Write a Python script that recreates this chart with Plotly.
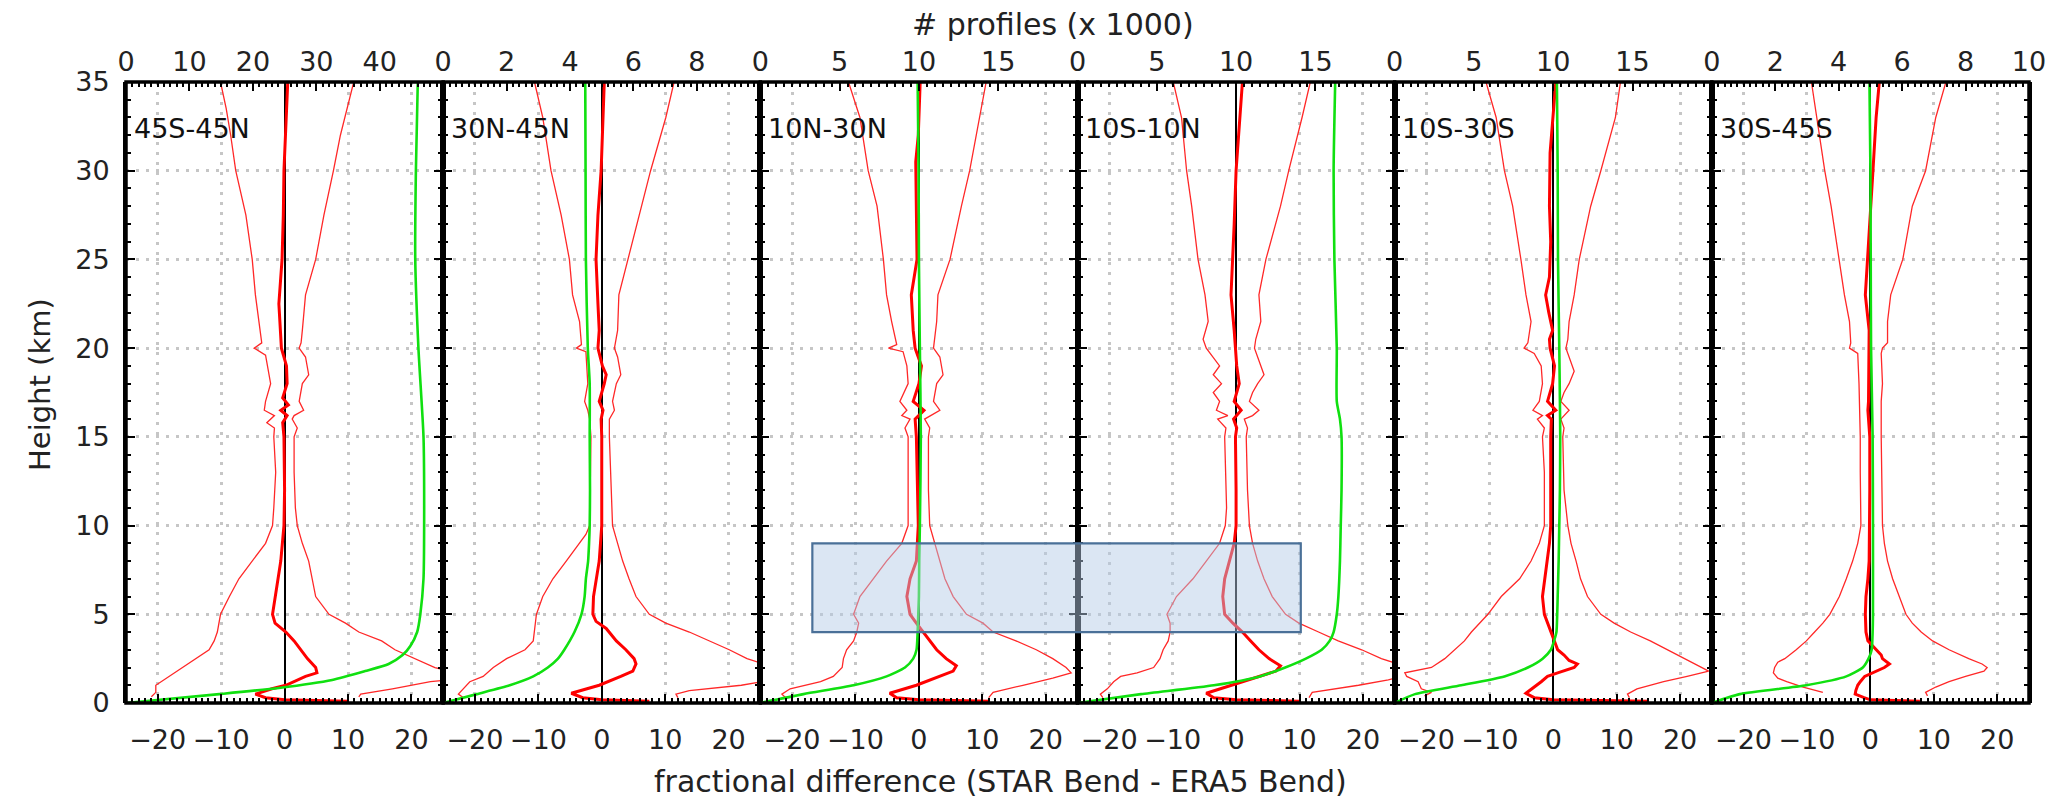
import plotly.graph_objects as go

# ---------------- axes / labels ----------------
REGIONS = ["45S-45N", "30N-45N", "10N-30N", "10S-10N", "10S-30S", "30S-45S"]
COUNT_MAX = [50, 10, 20, 20, 20, 10]
COUNT_TICKS = [[0, 10, 20, 30, 40], [0, 2, 4, 6, 8], [0, 5, 10, 15],
               [0, 5, 10, 15], [0, 5, 10, 15], [0, 2, 4, 6, 8, 10]]
COUNT_MINOR = [1, 0.2, 0.5, 0.5, 0.5, 0.2]
DIFF_RANGE = [-25, 25]
DIFF_TICKS = [-20, -10, 0, 10, 20]
HEIGHT_RANGE = [0, 35]
HEIGHT_TICKS = [0, 5, 10, 15, 20, 25, 30, 35]

# highlight box: from panel 3 (x=-16.8) to panel 4 (x=10.2), 4-9 km
BOX_PANELS = [3, 4]
BOX_X = [-16.8, 10.2]
BOX_Y = [4, 9]

# ---------------- panel 1 : 45S-45N ----------------
H_MEAN_1 = [35, 32, 30, 27.5, 25, 22.5, 21, 20, 19, 18, 17.2, 16.8, 16.5, 16.2, 15.8, 15, 12, 10, 8, 7, 6, 5, 4.5, 4, 3.5, 3, 2.5, 2, 1.7, 1.5, 1.2, 1, 0.8, 0.5, 0.3, 0.18, 0.1]
MEAN_1 = [0.5, 0.2, -0.1, -0.2, -0.4, -0.9, -0.6, -0.5, 0.3, 0.4, -0.3, 0.6, -0.6, 0.4, -0.3, -0.1, 0.0, -0.1, -0.6, -1.0, -1.4, -1.9, -1.5, 0.2, 1.5, 2.5, 3.6, 4.9, 5.1, 3.3, 1.5, 0.2, -2.0, -4.6, -3.0, 0.0, 10.0]
H_LO_1 = [35, 33.5, 32, 30, 27.5, 25, 23, 21, 20.3, 20, 19.6, 18, 17, 16.5, 16.2, 15.8, 15.5, 15, 13, 11, 10, 9, 8, 7, 6, 5, 4, 3.5, 3, 2.5, 2, 1.5, 1.0, 0.6, 0.35]
LO_1 = [-10.1, -9.2, -8.5, -7.7, -6.1, -5.1, -4.6, -3.8, -3.6, -4.8, -3.0, -2.2, -3.0, -3.2, -1.6, -2.8, -1.6, -1.7, -1.4, -1.7, -1.9, -3.0, -5.1, -7.2, -8.7, -10.1, -10.6, -11.1, -11.9, -14.0, -16.1, -18.2, -20.3, -20.3, -21.0]
H_HI_1 = [35, 33.5, 32, 30, 27.5, 25, 23, 21, 20.3, 20, 19.5, 18.5, 18, 17, 16.5, 16.2, 16, 15.5, 15, 13, 11, 10, 9, 8, 7, 6, 5, 4.5, 4, 3.5, 3, 2.5, 2, 1.8, 1.5, 1.3, 1.2, 0.8, 0.5, 0.35]
HI_1 = [10.9, 9.8, 8.8, 7.7, 6.2, 4.9, 3.3, 2.8, 2.6, 2.3, 3.3, 3.8, 2.8, 2.3, 3.0, 1.5, 1.2, 2.0, 1.5, 1.5, 1.7, 2.0, 2.8, 3.8, 4.3, 4.9, 7.0, 9.6, 11.7, 15.3, 17.4, 20.6, 23.7, 26.0, 28.0, 26.0, 23.0, 17.0, 12.0, 11.7]
H_N_1 = [35, 30, 25, 20, 15, 10, 7, 5, 4, 3.2, 2.7, 2.2, 1.8, 1.3, 0.85, 0.5, 0.0]
N_1 = [46.0, 45.7, 45.6, 46.1, 46.9, 47.0, 46.9, 46.4, 45.9, 44.8, 43.6, 41.4, 37.7, 32.5, 24.1, 14.7, 0.0]

# ---------------- panel 2 : 30N-45N ----------------
H_MEAN_2 = [35, 32, 30, 27.5, 25, 22.5, 21, 20, 19, 18.5, 18, 17, 16.5, 16, 15, 12, 10, 8, 7, 6, 5, 4.6, 4.2, 3.5, 3, 2.5, 2.2, 1.8, 1.5, 1, 0.55, 0.3, 0.18, 0.1]
MEAN_2 = [0.4, 0.1, -0.1, -0.6, -0.9, -0.6, -0.4, -0.6, 0.1, 0.7, 0.4, -0.4, 0.2, -0.1, 0.0, 0.0, 0.0, -0.4, -0.9, -1.3, -1.4, -0.9, 0.7, 2.3, 3.8, 5.1, 5.4, 4.9, 3.0, -0.4, -4.8, -3.0, 0.0, 7.5]
H_LO_2 = [35, 33, 30, 27.5, 25, 23, 21.5, 20.2, 20, 19.8, 18, 17, 16.5, 16, 15, 12, 10, 9.5, 9, 8, 7, 6, 5, 4, 3.5, 3, 2.5, 2, 1.5, 1.2, 0.8, 0.5, 0.3]
LO_2 = [-10.6, -9.3, -8.0, -6.4, -5.1, -4.6, -3.5, -3.2, -4.0, -2.5, -2.2, -2.7, -2.2, -1.9, -1.7, -1.8, -1.9, -2.5, -3.5, -5.6, -7.7, -9.3, -10.3, -10.6, -10.8, -12.1, -15.0, -17.1, -18.7, -20.8, -21.8, -22.6, -21.8]
H_HI_2 = [35, 33, 30, 27.5, 25, 23, 21, 20, 19.5, 18.5, 18, 17, 16.5, 16, 15, 12, 10, 9, 8, 7, 6, 5, 4.5, 4, 3.5, 3, 2.5, 2.2, 1.8, 1.3, 1.0, 0.7, 0.5, 0.3]
HI_2 = [11.4, 10.1, 7.7, 5.9, 4.1, 2.7, 2.5, 2.0, 2.5, 3.0, 2.3, 1.7, 2.0, 1.2, 1.2, 1.5, 1.7, 2.5, 3.3, 4.3, 5.4, 7.5, 10.1, 13.8, 16.9, 20.1, 22.9, 25.5, 28.0, 27.0, 22.0, 13.8, 11.7, 12.0]
H_N_2 = [35, 30, 25, 20, 18, 15, 12, 10, 9, 8, 7, 6, 5, 4, 3, 2.5, 2, 1.5, 1, 0.5, 0.0]
N_2 = [4.48, 4.49, 4.5, 4.56, 4.62, 4.62, 4.63, 4.62, 4.6, 4.57, 4.5, 4.46, 4.36, 4.14, 3.82, 3.62, 3.3, 2.84, 2.1, 1.06, 0.0]

# ---------------- panel 3 : 10N-30N ----------------
H_MEAN_3 = [35, 32, 30.5, 28, 25, 23, 21, 20, 19, 18, 17, 16.5, 16, 15, 12, 10, 8, 7, 6, 5, 4.5, 4, 3.5, 3, 2.5, 2.1, 1.8, 1.5, 1, 0.55, 0.3, 0.18, 0.1]
MEAN_3 = [0.2, -0.1, -0.5, -0.4, -0.3, -1.2, -0.9, -0.6, 0.4, 0.0, -0.9, 0.8, -0.6, -0.4, -0.2, -0.1, -0.4, -1.4, -1.9, -1.4, -0.4, 0.7, 1.7, 2.8, 4.3, 5.9, 5.4, 3.3, -0.4, -4.6, -3.5, 0.0, 11.2]
H_LO_3 = [35, 33, 30, 28, 25, 23, 21.5, 20.2, 20, 19.8, 19, 18, 17, 16.5, 16.2, 16, 15.5, 15, 13, 11, 10, 9, 8, 7, 6, 5, 4.5, 4, 3.5, 3, 2.5, 2, 1.5, 1.2, 0.8, 0.5, 0.3]
LO_3 = [-11.1, -9.3, -8.0, -6.6, -5.6, -5.1, -4.3, -3.5, -4.8, -2.5, -1.9, -1.7, -3.0, -1.9, -2.7, -1.4, -2.2, -1.7, -1.7, -1.7, -1.7, -2.7, -5.1, -7.2, -9.3, -10.3, -9.5, -9.8, -10.3, -11.4, -11.9, -12.1, -13.5, -15.5, -20.3, -21.6, -21.0]
H_HI_3 = [35, 33, 30, 28, 25, 23, 21.5, 20, 19.5, 18.5, 18, 17, 16.5, 16, 15.5, 15, 12, 10, 9, 8, 7, 6, 5, 4.5, 4, 3.5, 3, 2.5, 2, 1.7, 1.4, 1.0, 0.6, 0.3]
HI_3 = [10.6, 9.6, 8.0, 6.7, 4.9, 3.0, 2.8, 2.3, 3.3, 3.8, 2.8, 2.3, 3.3, 0.9, 1.7, 1.5, 1.5, 1.7, 2.5, 3.3, 4.1, 5.4, 7.5, 10.1, 11.7, 15.3, 18.5, 21.1, 23.2, 24.0, 21.1, 16.4, 11.7, 11.0]
H_N_3 = [35, 30, 25, 20, 15, 10, 8, 6, 5, 4, 3, 2.5, 2, 1.5, 1, 0.5, 0.0]
N_3 = [9.92, 9.98, 10.0, 10.06, 10.12, 10.06, 10.02, 10.0, 9.96, 9.92, 9.85, 9.64, 9.12, 7.96, 5.88, 2.72, 0.0]

# ---------------- panel 4 : 10S-10N ----------------
H_MEAN_4 = [35, 32, 30, 27, 25, 23, 21, 20, 19, 18, 17, 16.5, 16, 15.5, 15, 12, 10, 9, 8, 7, 6, 5, 4.5, 4, 3.5, 3, 2.5, 2.1, 1.8, 1.5, 1, 0.55, 0.3, 0.18, 0.1]
MEAN_4 = [1.0, 0.4, 0.0, -0.3, -0.5, -0.8, -0.3, -0.1, 0.1, 0.5, -0.3, 0.8, -0.4, 0.1, -0.1, 0.0, 0.0, -0.3, -1.0, -1.8, -2.1, -1.8, -0.5, 1.0, 2.3, 3.6, 5.2, 7.0, 6.3, 3.6, -0.5, -4.7, -3.5, 0.0, 10.0]
H_LO_4 = [35, 33, 30, 28, 25, 23, 21.5, 20.5, 20, 19, 18.5, 18, 17.5, 17, 16.5, 16.2, 16, 15.5, 15, 13, 11, 10, 9, 8, 7, 6, 5, 4.5, 4, 3.5, 3, 2.5, 2, 1.7, 1.5, 1.2, 0.8, 0.5, 0.3]
LO_4 = [-9.9, -8.6, -7.8, -7.0, -6.0, -4.9, -4.4, -5.2, -4.7, -2.6, -3.6, -2.3, -3.6, -2.6, -3.1, -1.3, -2.9, -1.6, -1.8, -1.6, -1.5, -1.7, -2.6, -4.7, -6.8, -9.4, -10.9, -10.4, -10.4, -10.7, -11.5, -12.0, -13.0, -15.6, -18.2, -19.3, -20.3, -21.4, -21.0]
H_HI_4 = [35, 33, 30, 28, 25, 23, 21.5, 20.5, 20, 19.5, 19, 18.5, 18, 17.5, 17, 16.5, 16.2, 16, 15.5, 15, 12, 10, 9, 8, 7, 6, 5, 4.5, 4, 3.5, 3, 2.5, 2.2, 1.7, 1.3, 1.0, 0.6, 0.3]
HI_4 = [11.7, 10.4, 8.3, 7.0, 4.7, 3.6, 3.9, 3.1, 2.9, 3.4, 3.9, 4.4, 3.4, 2.6, 2.1, 3.6, 2.6, 1.3, 1.8, 1.6, 1.8, 2.1, 2.6, 3.4, 4.4, 5.7, 7.8, 9.9, 13.0, 16.1, 19.8, 22.9, 25.5, 28.0, 24.0, 19.3, 12.0, 11.5]
H_N_4 = [35, 30, 25, 20, 17, 16, 15, 12, 10, 8, 6, 5, 4, 3.5, 3, 2.5, 2, 1.5, 1, 0.5, 0.0]
N_4 = [16.25, 16.15, 16.2, 16.35, 16.35, 16.55, 16.65, 16.65, 16.6, 16.55, 16.45, 16.35, 16.15, 15.9, 15.4, 14.4, 13.1, 11.5, 8.6, 4.0, 0.0]

# ---------------- panel 5 : 10S-30S ----------------
H_MEAN_5 = [35, 32, 31, 28, 26, 24, 23, 22, 21, 20.5, 20, 19, 18, 17, 16.5, 16.2, 16, 15, 12, 10, 9, 8, 7, 6, 5, 4.5, 4, 3.5, 3, 2.7, 2.4, 2.2, 2.0, 1.7, 1.5, 1.2, 0.9, 0.55, 0.3, 0.18, 0.1]
MEAN_5 = [0.4, -0.2, -0.5, -0.6, -0.4, -0.6, -1.2, -0.7, -0.1, -0.6, -0.5, 0.2, -0.1, -0.9, 0.4, -0.9, -0.3, -0.4, -0.4, -0.4, -0.6, -1.0, -1.4, -1.7, -1.4, -0.9, -0.4, 0.2, 0.7, 1.7, 2.5, 3.8, 3.3, 0.7, -0.9, -1.9, -3.0, -4.3, -3.0, 0.0, 15.0]
H_LO_5 = [35, 33, 30, 28, 25, 23, 21.5, 20.3, 20, 19.7, 19, 18, 17, 16.5, 16.2, 16, 15.5, 15, 13, 11, 10, 9, 8, 7, 6, 5, 4.5, 4, 3.5, 3, 2.5, 2, 1.7, 1.5, 1.2, 0.8, 0.6, 0.4]
LO_5 = [-10.6, -9.0, -7.7, -6.4, -5.1, -4.3, -3.5, -4.0, -4.6, -3.0, -1.9, -1.7, -2.2, -3.2, -1.7, -2.5, -1.4, -1.7, -1.4, -1.4, -1.4, -2.2, -3.5, -5.3, -8.2, -10.3, -11.6, -12.9, -14.0, -15.5, -17.1, -19.2, -23.4, -23.1, -21.3, -20.8, -19.2, -20.3]
H_HI_5 = [35, 33, 30, 28, 25, 23, 21.5, 20.5, 20, 19.5, 18.7, 18, 17.5, 17, 16.5, 16, 15.5, 15, 12, 10, 9, 8, 7, 6, 5, 4.5, 4, 3.5, 3, 2.5, 2, 1.8, 1.5, 1.2, 0.8, 0.5, 0.3]
HI_5 = [10.6, 9.8, 7.5, 5.9, 4.1, 3.3, 2.5, 2.3, 2.0, 2.5, 3.3, 2.5, 1.7, 1.2, 2.5, 1.2, 1.7, 1.5, 1.7, 2.3, 2.8, 3.6, 4.3, 5.4, 7.5, 9.6, 12.2, 15.3, 18.0, 20.6, 23.5, 24.5, 21.1, 17.4, 13.2, 11.7, 12.0]
H_N_5 = [35, 30, 25, 20, 17, 15, 12, 10, 8, 6, 5, 4, 3.5, 3, 2.5, 2, 1.5, 1, 0.5, 0.0]
N_5 = [10.23, 10.28, 10.3, 10.38, 10.42, 10.44, 10.42, 10.38, 10.34, 10.28, 10.25, 10.2, 10.05, 9.85, 9.33, 8.4, 6.92, 4.2, 1.28, 0.0]

# ---------------- panel 6 : 30S-45S ----------------
H_MEAN_6 = [35, 33, 30, 27, 25, 23, 21, 20, 17, 16.5, 15, 12, 10, 8, 7, 6, 5, 4, 3.5, 3, 2.7, 2.5, 2.2, 2.0, 1.7, 1.5, 1.2, 1.0, 0.7, 0.5, 0.3, 0.18, 0.1]
MEAN_6 = [1.4, 0.9, 0.4, -0.1, -0.4, -0.8, -0.2, -0.2, -0.3, -0.4, -0.1, -0.1, -0.1, -0.2, -0.4, -0.7, -0.8, -0.7, -0.4, 0.9, 1.7, 1.9, 3.0, 2.2, 0.4, -0.9, -1.6, -2.0, -2.3, -2.4, -1.0, 0.0, 7.8]
H_LO_6 = [35, 33, 30, 28, 25, 23, 21.5, 20.3, 20, 19.7, 18, 17, 15, 13, 11, 10, 9, 8, 7, 6, 5, 4.5, 4, 3.5, 3, 2.5, 2.3, 2.0, 1.7, 1.4, 1.2, 0.9, 0.6]
LO_6 = [-9.3, -8.5, -7.2, -6.2, -4.9, -4.1, -3.3, -3.1, -3.3, -2.0, -1.8, -1.7, -1.6, -1.6, -1.5, -1.5, -2.0, -2.8, -3.8, -4.9, -6.4, -7.5, -8.8, -10.1, -11.7, -13.5, -14.6, -15.1, -15.3, -14.6, -13.2, -10.6, -7.5]
H_HI_6 = [35, 33, 30, 28, 25, 23, 21.5, 20.3, 20, 19.7, 18, 17, 15, 13, 11, 10, 9, 8, 7, 6, 5, 4.5, 4, 3.5, 3, 2.5, 2.2, 2.0, 1.8, 1.5, 1.2, 0.9, 0.6, 0.4]
HI_6 = [11.9, 10.3, 8.7, 6.6, 5.1, 3.2, 2.7, 2.7, 1.9, 1.7, 1.9, 1.7, 1.7, 1.8, 1.9, 1.9, 2.2, 2.7, 3.5, 4.6, 5.6, 6.6, 8.0, 9.8, 12.4, 15.5, 17.6, 18.4, 17.9, 15.0, 12.4, 10.3, 8.7, 9.0]
H_N_6 = [35, 30, 25, 20, 15, 10, 5, 4, 3, 2.5, 2, 1.5, 1, 0.5, 0.0]
N_6 = [4.97, 5.0, 5.01, 5.02, 5.07, 5.08, 5.08, 5.07, 5.04, 4.94, 4.76, 4.24, 2.98, 0.88, 0.0]

PANELS = [
    (H_MEAN_1, MEAN_1, H_LO_1, LO_1, H_HI_1, HI_1, H_N_1, N_1),
    (H_MEAN_2, MEAN_2, H_LO_2, LO_2, H_HI_2, HI_2, H_N_2, N_2),
    (H_MEAN_3, MEAN_3, H_LO_3, LO_3, H_HI_3, HI_3, H_N_3, N_3),
    (H_MEAN_4, MEAN_4, H_LO_4, LO_4, H_HI_4, HI_4, H_N_4, N_4),
    (H_MEAN_5, MEAN_5, H_LO_5, LO_5, H_HI_5, HI_5, H_N_5, N_5),
    (H_MEAN_6, MEAN_6, H_LO_6, LO_6, H_HI_6, HI_6, H_N_6, N_6),
]

# ---------------- styling ----------------
FONT = "DejaVu Sans"
TXT = "#222222"
RED = "#ff0000"
THIN_RED = "rgb(255,40,40)"
GREEN = "#10e010"
GRID = "#c6c6c6"
GRID_DASH = "3px,7px"
TICK_SIZE = 27

W, H = 2066, 804
ML, MR, MT, MB = 126, 37, 82, 101
NP = len(REGIONS)


def ref(prefix, n):
    return prefix if n == 1 else f"{prefix}{n}"


fig = go.Figure()
layout = dict(
    width=W, height=H, autosize=False,
    margin=dict(l=ML, r=MR, t=MT, b=MB, pad=0),
    paper_bgcolor="white", plot_bgcolor="white",
    showlegend=False,
    font=dict(family=FONT, size=TICK_SIZE, color=TXT),
)
shapes = []
annotations = []

for i in range(NP):
    n = i + 1
    xb, xt, yy = ref("x", n), ref("x", n + NP), ref("y", n)
    d0, d1 = i / NP, (i + 1) / NP
    hm, m, hl, lo, hh, hi, hn, cnt = PANELS[i]

    # bottom axis: fractional difference
    layout[ref("xaxis", n)] = dict(
        domain=[d0, d1], range=DIFF_RANGE, anchor=yy,
        tickmode="array", tickvals=DIFF_TICKS,
        ticktext=[f"{v:d}".replace("-", "\u2212") for v in DIFF_TICKS],
        ticks="inside", ticklen=9, tickwidth=2, tickcolor="black",
        minor=dict(tickmode="linear", tick0=0, dtick=1, ticks="inside",
                   ticklen=5, tickwidth=1.5, tickcolor="black", showgrid=False),
        showgrid=True, gridcolor=GRID, gridwidth=2.5, griddash=GRID_DASH,
        zeroline=True, zerolinecolor="black", zerolinewidth=1.6,
        showline=False, ticklabelstandoff=18,
        tickfont=dict(family=FONT, size=TICK_SIZE, color=TXT),
        fixedrange=True,
    )
    # top axis: number of profiles
    layout[ref("xaxis", n + NP)] = dict(
        overlaying=xb, side="top", anchor=yy,
        range=[0, COUNT_MAX[i]],
        tickmode="array", tickvals=COUNT_TICKS[i],
        ticks="inside", ticklen=9, tickwidth=2, tickcolor="black",
        minor=dict(tickmode="linear", tick0=0, dtick=COUNT_MINOR[i], ticks="inside",
                   ticklen=5, tickwidth=1.5, tickcolor="black", showgrid=False),
        showgrid=False, zeroline=False, showline=False,
        ticklabelstandoff=5,
        tickfont=dict(family=FONT, size=TICK_SIZE, color=TXT),
        fixedrange=True,
    )
    ya = dict(
        domain=[0, 1], range=HEIGHT_RANGE, anchor=xb,
        tickmode="array", tickvals=HEIGHT_TICKS,
        ticks="inside", ticklen=9, tickwidth=2, tickcolor="black",
        minor=dict(tickmode="linear", tick0=0, dtick=1, ticks="inside",
                   ticklen=5, tickwidth=2, tickcolor="black", showgrid=False),
        showline=True, linecolor="black", linewidth=3, mirror="ticks",
        showgrid=True, gridcolor=GRID, gridwidth=2.5, griddash=GRID_DASH,
        zeroline=False, showticklabels=(n == 1), ticklabelstandoff=8,
        tickfont=dict(family=FONT, size=TICK_SIZE, color=TXT),
        fixedrange=True,
    )
    if n > 1:
        ya["matches"] = "y"
    layout[ref("yaxis", n)] = ya

    # traces
    fig.add_trace(go.Scatter(x=lo, y=hl, mode="lines", xaxis=xb, yaxis=yy,
                             line=dict(color=THIN_RED, width=1.3), hoverinfo="skip"))
    fig.add_trace(go.Scatter(x=hi, y=hh, mode="lines", xaxis=xb, yaxis=yy,
                             line=dict(color=THIN_RED, width=1.3), hoverinfo="skip"))
    fig.add_trace(go.Scatter(x=cnt, y=hn, mode="lines", xaxis=xt, yaxis=yy,
                             line=dict(color=GREEN, width=2.6, shape="spline",
                                       smoothing=0.6), hoverinfo="skip"))
    fig.add_trace(go.Scatter(x=m, y=hm, mode="lines", xaxis=xb, yaxis=yy,
                             line=dict(color=RED, width=3), hoverinfo="skip"))

    # panel frame
    shapes.append(dict(type="rect", xref=f"{xb} domain", yref=f"{yy} domain",
                       x0=0, x1=1, y0=0, y1=1, layer="above",
                       line=dict(color="black", width=3.5), fillcolor="rgba(0,0,0,0)"))
    # region label
    annotations.append(dict(text=REGIONS[i], xref=f"{xb} domain", yref=yy,
                            x=0.018, y=32.4, xanchor="left", yanchor="middle",
                            showarrow=False,
                            font=dict(family=FONT, size=27, color="#111111")))


# highlight box spanning panels 3 and 4 -> convert to paper coordinates
def to_paper_x(panel, v):
    frac = (v - DIFF_RANGE[0]) / (DIFF_RANGE[1] - DIFF_RANGE[0])
    return (panel - 1 + frac) / NP


def to_paper_y(v):
    return (v - HEIGHT_RANGE[0]) / (HEIGHT_RANGE[1] - HEIGHT_RANGE[0])


shapes.append(dict(type="rect", xref="paper", yref="paper",
                   x0=to_paper_x(BOX_PANELS[0], BOX_X[0]),
                   x1=to_paper_x(BOX_PANELS[1], BOX_X[1]),
                   y0=to_paper_y(BOX_Y[0]), y1=to_paper_y(BOX_Y[1]), layer="above",
                   line=dict(color="#4a7098", width=2.2),
                   fillcolor="rgba(180,203,230,0.48)"))

# axis titles
pw, ph = W - ML - MR, H - MT - MB
annotations.append(dict(text="Height (km)", xref="paper", yref="paper",
                        x=(40 - ML) / pw, y=(H - MB - 385) / ph, textangle=-90,
                        xanchor="center", yanchor="middle", showarrow=False,
                        font=dict(family=FONT, size=29, color=TXT)))
annotations.append(dict(text="# profiles (x 1000)", xref="paper", yref="paper",
                        x=(1053 - ML) / pw, y=(H - MB - 24) / ph,
                        xanchor="center", yanchor="middle", showarrow=False,
                        font=dict(family=FONT, size=30, color=TXT)))
annotations.append(dict(text="fractional difference (STAR Bend - ERA5 Bend)",
                        xref="paper", yref="paper",
                        x=(1000 - ML) / pw, y=(H - MB - 781) / ph,
                        xanchor="center", yanchor="middle", showarrow=False,
                        font=dict(family=FONT, size=30, color=TXT)))

layout["shapes"] = shapes
layout["annotations"] = annotations
fig.update_layout(**layout)
fig.write_html("out.html")
